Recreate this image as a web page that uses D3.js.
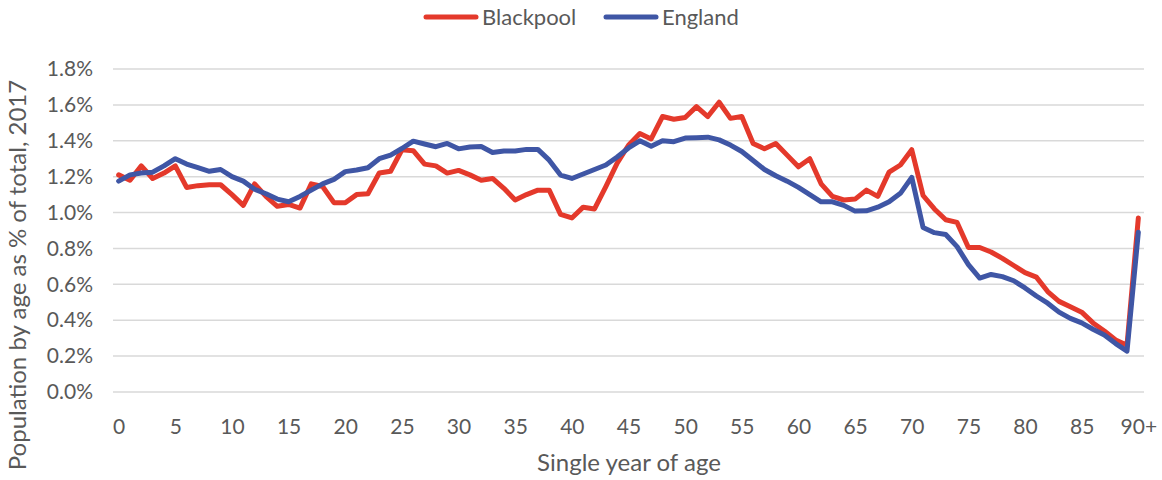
<!DOCTYPE html>
<html>
<head>
<meta charset="utf-8">
<script src="https://cdn.jsdelivr.net/npm/d3@7"></script>
<style>
  html, body { margin: 0; padding: 0; background: #ffffff; }
  svg { display: block; }
  text { font-family: Lato, "Liberation Sans", sans-serif; fill: #595959; }
</style>
</head>
<body>
<svg id="chart" width="1162" height="480"></svg>
<script>
// Single year of age, 0 to 90+
const ages = ["0","1","2","3","4","5","6","7","8","9","10","11","12","13","14","15","16","17","18","19",
  "20","21","22","23","24","25","26","27","28","29","30","31","32","33","34","35","36","37","38","39",
  "40","41","42","43","44","45","46","47","48","49","50","51","52","53","54","55","56","57","58","59",
  "60","61","62","63","64","65","66","67","68","69","70","71","72","73","74","75","76","77","78","79",
  "80","81","82","83","84","85","86","87","88","89","90+"];

// Population at each age as % of total, 2017
const blackpool = [1.21,1.18,1.26,1.19,1.22,1.26,1.14,1.15,1.155,1.155,
  1.10,1.04,1.16,1.09,1.035,1.045,1.025,1.16,1.145,1.055,
  1.055,1.10,1.105,1.22,1.23,1.35,1.345,1.27,1.26,1.22,
  1.235,1.21,1.18,1.19,1.135,1.07,1.10,1.125,1.125,0.99,
  0.97,1.03,1.02,1.145,1.275,1.375,1.44,1.41,1.535,1.52,
  1.53,1.59,1.535,1.615,1.525,1.535,1.385,1.355,1.385,1.32,
  1.255,1.30,1.16,1.09,1.07,1.075,1.125,1.09,1.225,1.265,
  1.35,1.095,1.02,0.96,0.945,0.805,0.805,0.78,0.745,0.705,
  0.665,0.64,0.56,0.505,0.475,0.445,0.385,0.34,0.29,0.26,0.97];

const england = [1.175,1.21,1.22,1.225,1.26,1.30,1.27,1.25,1.23,1.24,
  1.20,1.175,1.13,1.105,1.075,1.06,1.09,1.125,1.16,1.185,
  1.228,1.237,1.25,1.30,1.32,1.357,1.398,1.382,1.367,1.385,
  1.355,1.365,1.368,1.335,1.343,1.343,1.352,1.352,1.292,1.209,
  1.19,1.215,1.24,1.265,1.31,1.36,1.40,1.37,1.40,1.395,
  1.415,1.417,1.42,1.405,1.376,1.34,1.29,1.24,1.205,1.175,
  1.14,1.10,1.06,1.06,1.04,1.008,1.01,1.03,1.06,1.107,
  1.196,0.917,0.888,0.878,0.81,0.71,0.635,0.655,0.643,0.62,
  0.58,0.535,0.495,0.445,0.41,0.385,0.35,0.318,0.27,0.228,0.89];

const xTickLabels = ["0","5","10","15","20","25","30","35","40","45","50","55","60","65","70","75","80","85","90+"];
const yTicks = [0, 0.2, 0.4, 0.6, 0.8, 1.0, 1.2, 1.4, 1.6, 1.8];

const seriesNames = ["Blackpool", "England"];
const seriesColors = ["#e4392b", "#3f56a5"];

const svg = d3.select("#chart");
const plot = { left: 113, right: 1144, top: 69, bottom: 392 };
const fontStack = "Lato, 'Liberation Sans', sans-serif";

const x = d3.scalePoint().domain(ages).range([plot.left, plot.right]).padding(0.5);
const y = d3.scaleLinear().domain([0, 1.8]).range([plot.bottom, plot.top]);

// Horizontal gridlines
svg.append("g")
  .selectAll("line")
  .data(yTicks)
  .join("line")
  .attr("x1", plot.left)
  .attr("x2", plot.right)
  .attr("y1", d => y(d))
  .attr("y2", d => y(d))
  .attr("stroke", "#d9d9d9")
  .attr("stroke-width", 1.5);

// Y axis labels
const yAxis = d3.axisLeft(y).tickValues(yTicks).tickSize(0).tickPadding(0)
  .tickFormat(d => d3.format(".1f")(d) + "%");
const gy = svg.append("g").attr("transform", `translate(${plot.left - 20},0)`).call(yAxis);
gy.select(".domain").remove();
gy.selectAll("text").style("font-size", "21px").attr("fill", "#595959")
  .style("font-family", fontStack);

// X axis labels
const xAxis = d3.axisBottom(x).tickValues(xTickLabels).tickSize(0).tickPadding(0);
const gx = svg.append("g").attr("transform", `translate(0,${plot.bottom + 27})`).call(xAxis);
gx.select(".domain").remove();
gx.selectAll("text").style("font-size", "21px").attr("fill", "#595959")
  .style("font-family", fontStack);

// Series lines
const line = d3.line()
  .x((d, i) => x(ages[i]))
  .y(d => y(d));

[blackpool, england].forEach((vals, k) => {
  svg.append("path")
    .datum(vals)
    .attr("d", line)
    .attr("fill", "none")
    .attr("stroke", seriesColors[k])
    .attr("stroke-width", 5)
    .attr("stroke-linejoin", "round")
    .attr("stroke-linecap", "round");
});

// Axis titles
svg.append("text")
  .attr("x", 629)
  .attr("y", 471)
  .attr("text-anchor", "middle")
  .style("font-size", "24px")
  .text("Single year of age");

svg.append("text")
  .attr("transform", "translate(26,275) rotate(-90)")
  .attr("text-anchor", "middle")
  .style("font-size", "24px")
  .text("Population by age as % of total, 2017");

// Legend
const legendItems = [
  { name: seriesNames[0], color: seriesColors[0], x0: 426 },
  { name: seriesNames[1], color: seriesColors[1], x0: 606 }
];
const lg = svg.append("g");
legendItems.forEach(it => {
  lg.append("line")
    .attr("x1", it.x0).attr("x2", it.x0 + 50)
    .attr("y1", 17).attr("y2", 17)
    .attr("stroke", it.color)
    .attr("stroke-width", 5)
    .attr("stroke-linecap", "round");
  lg.append("text")
    .attr("x", it.x0 + 56)
    .attr("y", 25)
    .style("font-size", "22px")
    .text(it.name);
});
</script>
</body>
</html>
